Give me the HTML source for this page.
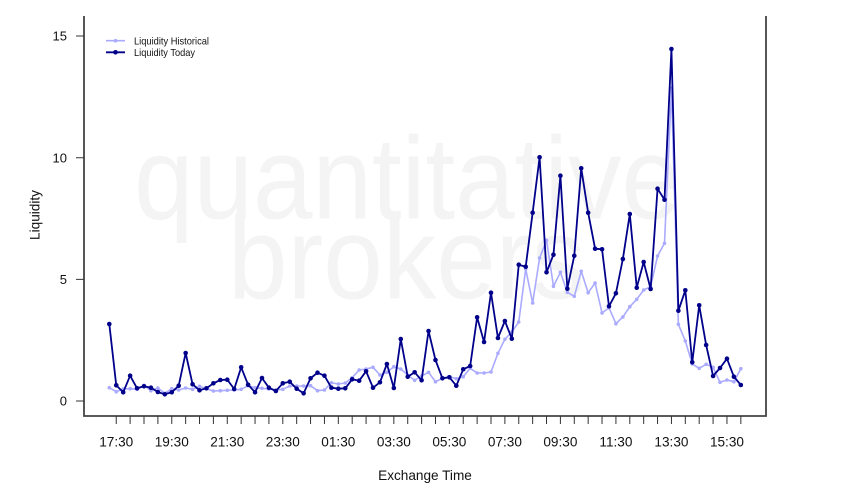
<!DOCTYPE html>
<html><head><meta charset="utf-8"><style>
html,body{margin:0;padding:0;background:#fff;}
svg{display:block;font-family:"Liberation Sans",Arial,sans-serif;}
</style></head><body>
<svg width="850" height="500" viewBox="0 0 850 500" xmlns="http://www.w3.org/2000/svg">
<defs>
<marker id="mh" markerUnits="userSpaceOnUse" markerWidth="6" markerHeight="6" refX="3" refY="3"><circle cx="3" cy="3" r="1.8" fill="#aaaaff"/></marker>
<marker id="mt" markerUnits="userSpaceOnUse" markerWidth="6" markerHeight="6" refX="3" refY="3"><circle cx="3" cy="3" r="2.3" fill="#00008b"/></marker>
</defs>
<rect width="850" height="500" fill="#fff"/>
<g fill="#f4f4f4" font-size="117">
<text x="134" y="218.3" textLength="547" lengthAdjust="spacingAndGlyphs">quantitative</text>
<text x="228" y="298.3" textLength="357" lengthAdjust="spacingAndGlyphs">brokers</text>
</g>
<polyline fill="none" stroke="#aaaaff" stroke-width="1.6" stroke-linejoin="round" marker-start="url(#mh)" marker-mid="url(#mh)" marker-end="url(#mh)" points="109.30,387.7 116.24,391.7 123.18,389 130.12,388.7 137.06,389.3 144.00,385.3 150.94,390.7 157.88,388 164.82,393.3 171.76,388.7 178.70,390 185.64,388 192.58,389.3 199.52,386.3 206.46,388.7 213.40,391 220.34,390.7 227.28,390.3 234.22,390 241.16,389.3 248.10,385.7 255.04,387.7 261.98,388.3 268.92,389 275.86,390 282.80,389.3 289.74,386 296.68,386 303.62,386 310.56,385.7 317.50,390.7 324.44,390 331.38,382.7 338.32,384 345.26,383 352.20,377.7 359.14,370 366.08,369 373.02,367.3 379.96,375 386.90,372.3 393.84,366.7 400.78,369 407.72,375 414.66,380.3 421.60,376 428.54,372.3 435.48,381.7 442.42,378.3 449.36,376.7 456.30,378.7 463.24,376.7 470.18,368.3 477.12,373 484.06,373 491.00,372 497.94,353.3 504.88,339.3 511.82,332 518.76,322 525.70,269 532.64,303 539.58,258 546.52,240.3 553.46,286.3 560.40,272.3 567.34,292.3 574.28,296.3 581.22,271.3 588.16,292.7 595.10,283 602.04,313 608.98,307.7 615.92,323.7 622.86,317 629.80,306.7 636.74,299.3 643.68,290 650.62,286.7 657.56,256 664.50,243.3 671.44,88 678.38,324.3 685.32,341 692.26,364 699.20,368.3 706.14,364.3 713.08,367.3 720.02,382.3 726.96,380 733.90,381.7 740.84,368.7"/>
<polyline fill="none" stroke="#00008b" stroke-width="1.8" stroke-linejoin="round" marker-start="url(#mt)" marker-mid="url(#mt)" marker-end="url(#mt)" points="109.30,324 116.24,385.3 123.18,392.3 130.12,375.7 137.06,388.3 144.00,386.3 150.94,387.7 157.88,392 164.82,394.3 171.76,392.3 178.70,385.7 185.64,353 192.58,384.3 199.52,390.3 206.46,388.3 213.40,383.3 220.34,380 227.28,379.7 234.22,389 241.16,367.3 248.10,384.7 255.04,392.3 261.98,378 268.92,387.7 275.86,391 282.80,383.3 289.74,381.7 296.68,388.7 303.62,393.3 310.56,378.3 317.50,372.7 324.44,375.7 331.38,387.7 338.32,388.7 345.26,388.3 352.20,379.3 359.14,380.7 366.08,371.3 373.02,387.7 379.96,382.3 386.90,364 393.84,388 400.78,339 407.72,376.7 414.66,372.3 421.60,380.3 428.54,331 435.48,360 442.42,378.3 449.36,377.3 456.30,385.7 463.24,369.3 470.18,366 477.12,317.3 484.06,342 491.00,292.7 497.94,338 504.88,321 511.82,338.7 518.76,264.7 525.70,266.7 532.64,212.7 539.58,157.3 546.52,272.3 553.46,254.7 560.40,175.7 567.34,288.7 574.28,255.7 581.22,168.3 588.16,212.7 595.10,248.7 602.04,249.3 608.98,306.3 615.92,293.3 622.86,259 629.80,214 636.74,287.7 643.68,262 650.62,289 657.56,188.7 664.50,199.7 671.44,49 678.38,310.7 685.32,290.3 692.26,362.3 699.20,305.3 706.14,345 713.08,376 720.02,368 726.96,358.7 733.90,376.7 740.84,385"/>
<!-- axes -->
<path d="M84,16 V416 H766 V16" fill="none" stroke="#444" stroke-width="1.8"/>
<path stroke="#333" stroke-width="1" fill="none" d="M76,36.05H84 M76,157.7H84 M76,279.35H84 M76,401H84"/>
<path stroke="#333" stroke-width="1" fill="none" d="M116.24,416V424 M130.12,416V424 M144.00,416V424 M157.88,416V424 M171.76,416V424 M185.64,416V424 M199.52,416V424 M213.40,416V424 M227.28,416V424 M241.16,416V424 M255.04,416V424 M268.92,416V424 M282.80,416V424 M296.68,416V424 M310.56,416V424 M324.44,416V424 M338.32,416V424 M352.20,416V424 M366.08,416V424 M379.96,416V424 M393.84,416V424 M407.72,416V424 M421.60,416V424 M435.48,416V424 M449.36,416V424 M463.24,416V424 M477.12,416V424 M491.00,416V424 M504.88,416V424 M518.76,416V424 M532.64,416V424 M546.52,416V424 M560.40,416V424 M574.28,416V424 M588.16,416V424 M602.04,416V424 M615.92,416V424 M629.80,416V424 M643.68,416V424 M657.56,416V424 M671.44,416V424 M685.32,416V424 M699.20,416V424 M713.08,416V424 M726.96,416V424 M740.84,416V424"/>
<g font-size="13" fill="#111" text-anchor="end">
<text x="67" y="40.7">15</text>
<text x="67" y="162.4">10</text>
<text x="67" y="284">5</text>
<text x="67" y="405.7">0</text>
</g>
<g font-size="13.6" fill="#111" text-anchor="middle">
<text x="116.24" y="446.7">17:30</text>
<text x="171.76" y="446.7">19:30</text>
<text x="227.28" y="446.7">21:30</text>
<text x="282.80" y="446.7">23:30</text>
<text x="338.32" y="446.7">01:30</text>
<text x="393.84" y="446.7">03:30</text>
<text x="449.36" y="446.7">05:30</text>
<text x="504.88" y="446.7">07:30</text>
<text x="560.40" y="446.7">09:30</text>
<text x="615.92" y="446.7">11:30</text>
<text x="671.44" y="446.7">13:30</text>
<text x="726.96" y="446.7">15:30</text>
<text x="425" y="480">Exchange Time</text>
<text transform="translate(39.5,215) rotate(-90)" x="0" y="0">Liquidity</text>
</g>
<!-- legend -->
<line x1="106" y1="40.7" x2="125" y2="40.7" stroke="#aaaaff" stroke-width="1.6"/>
<circle cx="115.5" cy="40.7" r="1.8" fill="#aaaaff"/>
<line x1="106" y1="52.3" x2="125" y2="52.3" stroke="#00008b" stroke-width="1.8"/>
<circle cx="115.5" cy="52.3" r="2.3" fill="#00008b"/>
<g font-size="10.5" fill="#111">
<text x="134" y="44.4" textLength="75" lengthAdjust="spacingAndGlyphs">Liquidity Historical</text>
<text x="134" y="56" textLength="61" lengthAdjust="spacingAndGlyphs">Liquidity Today</text>
</g>
</svg>
</body></html>
